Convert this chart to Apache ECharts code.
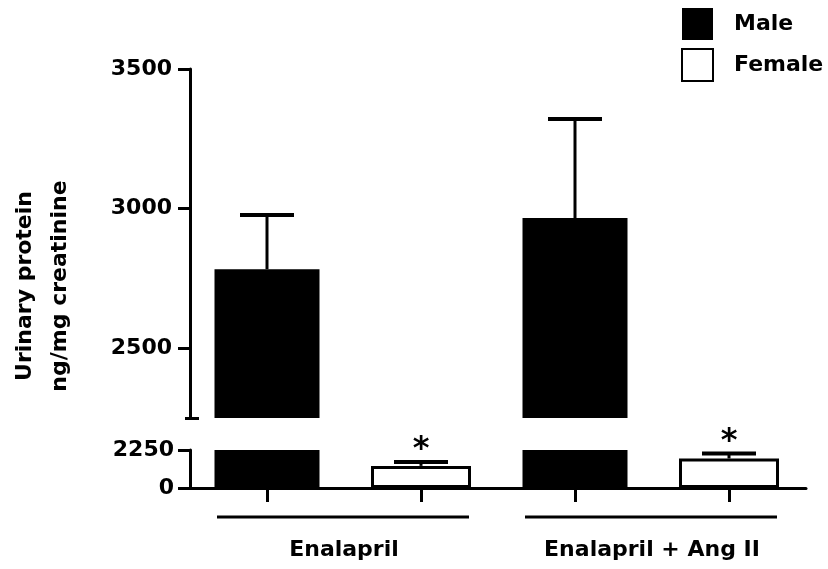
<!DOCTYPE html>
<html>
<head>
<meta charset="utf-8">
<script src="https://cdn.jsdelivr.net/npm/echarts@6/dist/echarts.min.js"></script>
<style>
  html, body { margin: 0; padding: 0; background: #fff; }
  #chart { width: 828px; height: 569px; }
</style>
</head>
<body>
<div id="chart"></div>
<script>
// ---- data ----
const groups = ['Enalapril', 'Enalapril + Ang II'];
const sexes = ['Male', 'Female'];
const maleMean = [2783, 2966];
const maleSEM = [194, 355];
const femaleMean = [1310, 1750];
const femaleSEM = [230, 290];
const upperTicks = [2500, 3000, 3500];
const lowerTicks = [0, 2250];
const breakValue = 2250;
const upperMax = 3500;
const significant = [true, true];

// ---- build slots (one per bar) ----
const slots = [];
const maleSlots = [];
const femaleSlots = [];
const maleErr = [];
const femaleErr = [];
groups.forEach((g, gi) => {
  sexes.forEach((s, si) => {
    const idx = slots.length;
    slots.push(g + ' ' + s);
    if (si === 0) {
      maleSlots.push(maleMean[gi]); femaleSlots.push('-');
      maleErr.push([idx, maleMean[gi], maleSEM[gi], 0]);
    } else {
      maleSlots.push('-'); femaleSlots.push(femaleMean[gi]);
      femaleErr.push([idx, femaleMean[gi], femaleSEM[gi], significant[gi] ? 1 : 0]);
    }
  });
});

const FONT = 'DejaVu Sans';
const BLACK = '#000';

function errRender(withStar) {
  return function (params, api) {
    const idx = api.value(0), m = api.value(1), e = api.value(2), star = api.value(3);
    const base = api.coord([idx, m]);
    const top = api.coord([idx, m + e]);
    const half = 27;
    const children = [
      { type: 'line', shape: { x1: base[0], y1: base[1], x2: top[0], y2: top[1] },
        style: { stroke: BLACK, lineWidth: 3 } },
      { type: 'line', shape: { x1: top[0] - half, y1: top[1], x2: top[0] + half, y2: top[1] },
        style: { stroke: BLACK, lineWidth: 4 } }
    ];
    if (withStar && star) {
      children.push({ type: 'text', x: top[0], y: top[1] - 12,
        style: { text: '*', textAlign: 'center', textVerticalAlign: 'middle',
          font: 'bold 32px "' + FONT + '"', fill: BLACK } });
    }
    return { type: 'group', children };
  };
}

const plain = v => String(v);
const labelStyle = { fontFamily: FONT, fontSize: 22, fontWeight: 'bold', color: BLACK };
const axisLineStyle = { color: BLACK, width: 3 };

const chart = echarts.init(document.getElementById('chart'), null, { renderer: 'canvas' });
const option = {
  animation: false,
  backgroundColor: '#fff',
  textStyle: { fontFamily: FONT, fontWeight: 'bold', color: BLACK },
  legend: {
    orient: 'vertical', left: 681, top: 8, padding: 0,
    itemWidth: 31, itemHeight: 32, itemGap: 8,
    icon: 'rect',
    selectedMode: false,
    data: sexes,
    textStyle: { fontFamily: FONT, fontSize: 22, fontWeight: 'bold', color: BLACK, padding: [0, 0, 0, 16] }
  },
  grid: [
    { left: 190, width: 616, top: 69, height: 349, outerBoundsMode: 'none' },
    { left: 190, width: 616, top: 450, height: 38, outerBoundsMode: 'none' },
    { left: 190, width: 616, top: 450, height: 38, outerBoundsMode: 'none' }
  ],
  xAxis: [
    { gridIndex: 0, type: 'category', data: slots, position: 'bottom', show: false },
    { gridIndex: 1, type: 'category', data: slots, position: 'bottom',
      axisLine: { show: true, lineStyle: axisLineStyle },
      axisTick: { show: true, alignWithLabel: true, interval: 0, length: 14, lineStyle: { color: BLACK, width: 3 } },
      axisLabel: { show: false, interval: 0 }, splitLine: { show: false } },
    { gridIndex: 2, type: 'category', data: groups, position: 'bottom',
      axisLine: { show: false }, axisTick: { show: false }, splitLine: { show: false },
      axisLabel: Object.assign({ margin: 51, interval: 0 }, labelStyle) },
    { gridIndex: 1, type: 'category', data: slots, position: 'bottom', show: false }
  ],
  yAxis: [
    { gridIndex: 0, type: 'value', min: breakValue, max: upperMax, position: 'left',
      splitLine: { show: false },
      axisLine: { show: true, lineStyle: axisLineStyle },
      axisTick: { show: true, length: 12, customValues: upperTicks, lineStyle: { color: BLACK, width: 3 } },
      axisLabel: Object.assign({ customValues: upperTicks, margin: 18, formatter: plain }, labelStyle) },
    { gridIndex: 1, type: 'value', min: 0, max: breakValue, position: 'left',
      splitLine: { show: false },
      axisLine: { show: true, lineStyle: axisLineStyle },
      axisTick: { show: true, length: 12, customValues: lowerTicks, lineStyle: { color: BLACK, width: 3 } },
      axisLabel: Object.assign({ customValues: lowerTicks, margin: 16, formatter: plain }, labelStyle) },
    { gridIndex: 0, type: 'value', min: breakValue, max: upperMax, position: 'left', offset: 5,
      splitLine: { show: false }, axisLine: { show: false }, axisLabel: { show: false },
      axisTick: { show: true, inside: true, length: 14, customValues: [breakValue], lineStyle: { color: BLACK, width: 3 } } },
    { gridIndex: 2, type: 'value', show: false }
  ],
  series: [
    { name: 'Male', type: 'bar', xAxisIndex: 0, yAxisIndex: 0, data: maleSlots,
      barWidth: 105, itemStyle: { color: BLACK } },
    { name: 'Male', type: 'bar', xAxisIndex: 1, yAxisIndex: 1, data: maleSlots,
      barWidth: 105, itemStyle: { color: BLACK } },
    { name: 'Female', type: 'bar', xAxisIndex: 3, yAxisIndex: 1, data: femaleSlots,
      barWidth: 100, itemStyle: { color: '#fff', borderColor: BLACK, borderWidth: 3 } },
    { type: 'custom', xAxisIndex: 0, yAxisIndex: 0, data: maleErr, renderItem: errRender(false), z: 5 },
    { type: 'custom', xAxisIndex: 1, yAxisIndex: 1, data: femaleErr, renderItem: errRender(true), z: 5 }
  ]
};
chart.setOption(option);

// group bracket lines under each treatment, placed from the axis scale
const baseY = chart.convertToPixel({ yAxisIndex: 1 }, 0) + 29;
const graphics = [];
groups.forEach((g, gi) => {
  const xa = chart.convertToPixel({ xAxisIndex: 1 }, gi * 2);
  const xb = chart.convertToPixel({ xAxisIndex: 1 }, gi * 2 + 1);
  graphics.push({ type: 'line', shape: { x1: xa - 50, y1: baseY, x2: xb + 48, y2: baseY },
    style: { stroke: BLACK, lineWidth: 3 }, silent: true });
});
graphics.push({
  type: 'text', x: 43, y: 286, rotation: Math.PI / 2,
  style: { text: 'Urinary protein\nng/mg creatinine', textAlign: 'center', textVerticalAlign: 'middle',
    font: 'bold 22px "' + FONT + '"', lineHeight: 35, fill: BLACK }
});
chart.setOption({ graphic: graphics });
</script>
</body>
</html>
